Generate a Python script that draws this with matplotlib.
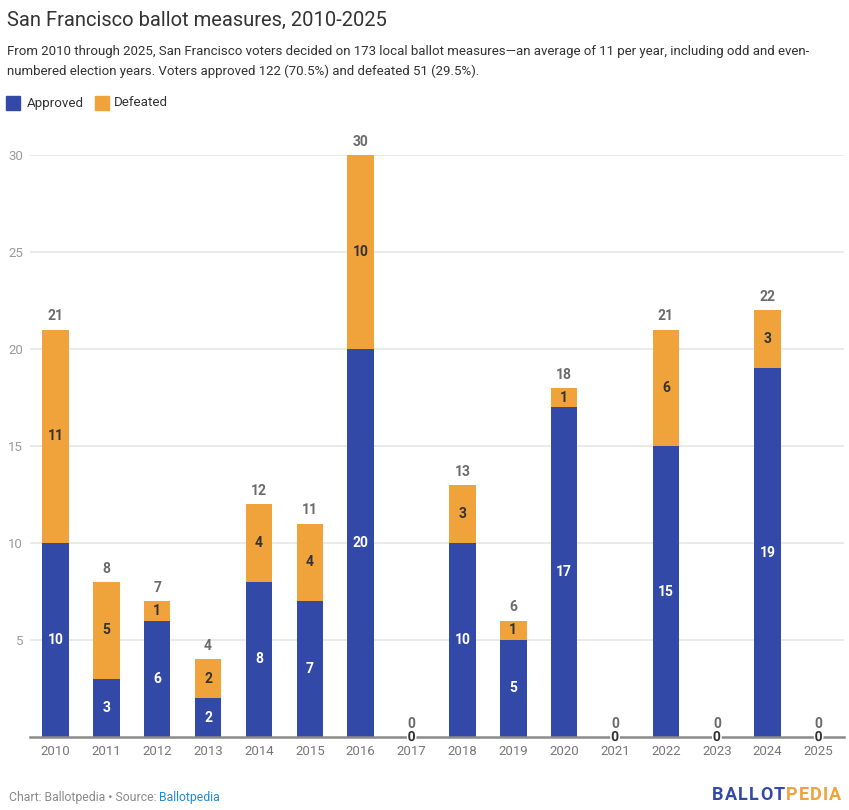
import matplotlib
matplotlib.use("Agg")
import matplotlib.pyplot as plt
import matplotlib.patheffects as pe
from matplotlib.patches import Rectangle
import numpy as np

years = ["2010", "2011", "2012", "2013", "2014", "2015", "2016", "2017",
         "2018", "2019", "2020", "2021", "2022", "2023", "2024", "2025"]
approved = [10, 3, 6, 2, 8, 7, 20, 0, 10, 5, 17, 0, 15, 0, 19, 0]
defeated = [11, 5, 1, 2, 4, 4, 10, 0, 3, 1, 1, 0, 6, 0, 3, 0]
yticks = [5, 10, 15, 20, 25, 30]

BLUE = "#3349a8"
ORANGE = "#f0a33a"

plt.rcParams['font.family'] = ['Roboto', 'DejaVu Sans']

W, H = 849, 810
fig = plt.figure(figsize=(W / 100, H / 100), dpi=100)

def fx(px):
    return px / W

def fy(py):
    return 1 - py / H

ax = fig.add_axes([fx(30), fy(737), fx(844) - fx(30), fy(155) - fy(737)])
x = np.arange(len(years))
appr = np.array(approved)
defe = np.array(defeated)
tot = appr + defe
bw = 0.52
ax.bar(x, appr, width=bw, color=BLUE, zorder=3)
ax.bar(x, defe, bottom=appr, width=bw, color=ORANGE, zorder=3)

ax.set_xlim(-0.5, 15.5)
ax.set_ylim(0, 30)
ax.set_yticks(yticks)
ax.set_yticklabels([str(v) for v in yticks], color="#9a9a9a", fontsize=9.5)
ax.set_xticks(x)
ax.set_xticklabels(years, color="#777777", fontsize=9.5)
ax.tick_params(axis="both", length=0)
ax.tick_params(axis="x", pad=6)
ax.tick_params(axis="y", pad=5)
for v in yticks:
    ax.axhline(v, color="#e6e6e6", lw=1.2, zorder=1)
for s in ["top", "right", "left"]:
    ax.spines[s].set_visible(False)
ax.spines["bottom"].set_color("#8a8a8a")
ax.spines["bottom"].set_linewidth(1.8)
ax.spines["bottom"].set_zorder(4)

LFS = 10
outline = [pe.withStroke(linewidth=2, foreground="white")]
for i in range(len(years)):
    a, d, t = appr[i], defe[i], tot[i]
    if a > 0:
        ax.text(i, a / 2, str(a), ha="center", va="center", color="white",
                fontsize=LFS, fontweight="bold", zorder=5)
    else:
        ax.text(i, 0, "0", ha="center", va="center", color="#333333",
                fontsize=LFS, fontweight="bold", zorder=6, path_effects=outline,
                clip_on=False)
    if d > 0:
        ax.text(i, a + d / 2, str(d), ha="center", va="center", color="#333333",
                fontsize=LFS, fontweight="bold", zorder=5)
    else:
        ax.text(i, 0, "0", ha="center", va="center", color="#333333",
                fontsize=LFS, fontweight="bold", zorder=6, path_effects=outline,
                clip_on=False)
    ax.annotate(str(t), (i, t), xytext=(0, 4.5), textcoords="offset points",
                ha="center", va="bottom", color="#6b6b6b", fontsize=LFS,
                fontweight="bold", annotation_clip=False, zorder=5)

# Title and subtitle
fig.text(fx(7), fy(20), "San Francisco ballot measures, 2010-2025", fontsize=14.5,
         color="#333333", ha="left", va="center")
fig.text(fx(7), fy(52), "From 2010 through 2025, San Francisco voters decided on 173 local ballot measures\u2014an average of 11 per year, including odd and even-",
         fontsize=9.5, color="#333333", ha="left", va="center")
fig.text(fx(7), fy(71), "numbered election years. Voters approved 122 (70.5%) and defeated 51 (29.5%).",
         fontsize=9.5, color="#333333", ha="left", va="center")

# Legend
fig.patches.append(Rectangle((fx(6), fy(110)), fx(14), fy(96) - fy(110),
                             transform=fig.transFigure, color=BLUE))
fig.text(fx(27), fy(103), "Approved", fontsize=9.6, color="#333333", va="center")
fig.patches.append(Rectangle((fx(95), fy(110)), fx(14), fy(96) - fy(110),
                             transform=fig.transFigure, color=ORANGE))
fig.text(fx(114), fy(103), "Defeated", fontsize=9.6, color="#333333", va="center")

# Footer
t1 = fig.text(fx(9), fy(797), "Chart: Ballotpedia \u2022 Source: ", fontsize=8.8,
              color="#8a8a8a", va="center")
fig.canvas.draw()
bb = t1.get_window_extent()
fig.text(bb.x1 / W, fy(797), "Ballotpedia", fontsize=8.8, color="#1f8ad6", va="center")

# Logo (letter-spaced)
xpos = 712.0
for j, ch in enumerate("BALLOTPEDIA"):
    col = BLUE if j < 6 else ORANGE
    tt = fig.text(fx(xpos), fy(795), ch, fontsize=13, fontweight="bold",
                  color=col, va="center")
    fig.canvas.draw()
    b = tt.get_window_extent()
    xpos = b.x1 + 1.2

fig.savefig("out.png", dpi=100)
